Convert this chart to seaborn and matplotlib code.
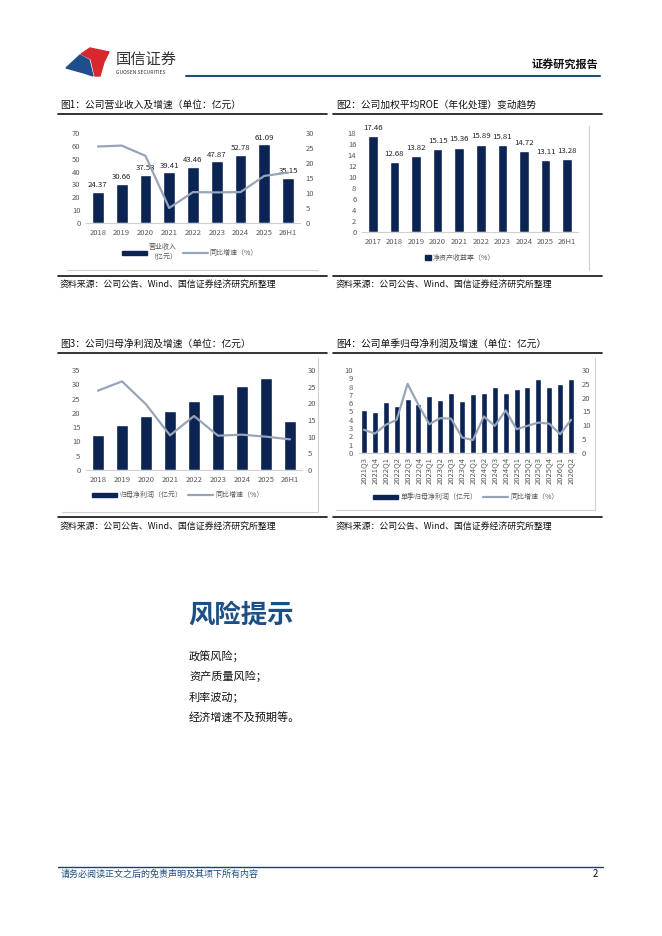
import numpy as np
import matplotlib
matplotlib.use('Agg')
import matplotlib.pyplot as plt
import seaborn as sns
from matplotlib.lines import Line2D
from matplotlib.patches import Patch, Polygon

sns.set_theme(style='white')
plt.rcParams['font.family'] = ['Noto Sans CJK SC', 'DejaVu Sans']
plt.rcParams['axes.unicode_minus'] = False

# ---- data ----
years = ['2018', '2019', '2020', '2021', '2022', '2023', '2024', '2025', '26H1']
revenue = [24.37, 30.66, 37.53, 39.41, 43.46, 47.87, 52.78, 61.09, 35.15]
revenue_yoy = [25.5, 25.8, 22.4, 5.0, 10.3, 10.2, 10.3, 15.7, 16.8]

roe_years = ['2017', '2018', '2019', '2020', '2021', '2022', '2023', '2024', '2025', '26H1']
roe = [17.46, 12.68, 13.82, 15.15, 15.36, 15.89, 15.81, 14.72, 13.11, 13.28]

profit = [12.4, 15.7, 18.8, 20.6, 24.1, 26.6, 29.5, 32.2, 17.1]
profit_yoy = [23.8, 26.6, 19.7, 10.4, 16.2, 10.3, 10.6, 10.0, 9.2]

quarters = ['2021Q3', '2021Q4', '2022Q1', '2022Q2', '2022Q3', '2022Q4',
            '2023Q1', '2023Q2', '2023Q3', '2023Q4', '2024Q1', '2024Q2',
            '2024Q3', '2024Q4', '2025Q1', '2025Q2', '2025Q3', '2025Q4',
            '2026Q1', '2026Q2']
q_profit = [5.2, 5.0, 6.2, 5.7, 6.5, 5.9, 6.9, 6.4, 7.2, 6.3,
            7.1, 7.2, 8.0, 7.2, 7.7, 7.9, 8.9, 8.0, 8.3, 8.9]
q_yoy = [8.4, 7.0, 10.2, 12.0, 25.0, 17.4, 10.4, 12.6, 12.4, 5.6,
         4.7, 13.2, 9.8, 15.4, 8.6, 9.8, 11.0, 10.6, 6.8, 12.0]

risks = ['政策风险；', '资产质量风险；', '利率波动；', '经济增速不及预期等。']

NAVY = '#0b2454'
LINE = '#97a5b8'
TICK = '#595959'
BLUE = '#1c4f86'
W, H = 662, 936

fig = plt.figure(figsize=(W / 100, H / 100), dpi=100)


def box(x0, y0, x1, y1):
    return [x0 / W, 1 - y1 / H, (x1 - x0) / W, (y1 - y0) / H]


def text(x, y, s, **kw):
    kw.setdefault('va', 'center')
    fig.text(x / W, 1 - y / H, s, **kw)


def hline(x0, x1, y, **kw):
    fig.add_artist(Line2D([x0 / W, x1 / W], [1 - y / H, 1 - y / H], **kw))


def vline(x, y0, y1, **kw):
    fig.add_artist(Line2D([x / W, x / W], [1 - y0 / H, 1 - y1 / H], **kw))


def style_axes(ax, ax2=None, xpad=4, rot=0):
    for s in ['top', 'left', 'right']:
        ax.spines[s].set_visible(False)
    ax.spines['bottom'].set_color('#d0d0d0')
    ax.spines['bottom'].set_linewidth(0.8)
    ax.tick_params(axis='both', length=0, labelsize=5.5, labelcolor=TICK)
    ax.tick_params(axis='y', pad=4)
    ax.tick_params(axis='x', pad=xpad, labelrotation=rot)
    ax.set_xlabel('')
    ax.set_ylabel('')
    if ax2 is not None:
        for s in ax2.spines.values():
            s.set_visible(False)
        ax2.tick_params(axis='y', length=0, labelsize=5.5, labelcolor=TICK, pad=4)
        ax2.set_ylabel('')
        ax2.grid(False)


def combo(rect, cats, bars, line, ylim, yticks, width, leg_labels, leg_xy, rot=0, xpad=4, labels=False):
    ax = fig.add_axes(box(*rect))
    sns.barplot(x=cats, y=bars, color=NAVY, saturation=1, width=width, ax=ax)
    if labels:
        ax.bar_label(ax.containers[0], fmt='%.2f', fontsize=5.6, padding=2, color='#222222')
    ax2 = ax.twinx()
    sns.lineplot(x=np.arange(len(cats)), y=line, color=LINE, lw=1.6, ax=ax2)
    ax.set_xlim(-0.5, len(cats) - 0.5)
    ax.set_ylim(*ylim)
    ax.set_yticks(yticks)
    ax2.set_ylim(0, 30)
    ax2.set_yticks(range(0, 31, 5))
    style_axes(ax, ax2, xpad=xpad, rot=rot)
    handles = [Patch(color=NAVY), Line2D([], [], color=LINE, lw=1.6)]
    ax.legend(handles, leg_labels, ncol=2, loc='center', frameon=False,
              bbox_to_anchor=(leg_xy[0] / W, 1 - leg_xy[1] / H), bbox_transform=fig.transFigure,
              fontsize=5, handlelength=3.6, handleheight=0.5, columnspacing=0.8,
              handletextpad=0.3, labelcolor=TICK)
    return ax


# ---- header ----
logo = fig.add_axes(box(62, 44, 112, 78))
logo.set_xlim(62, 112)
logo.set_ylim(78, 44)
logo.axis('off')
logo.add_patch(Polygon([(66, 68), (80, 55), (89, 60), (93, 76), (84, 73)], color='#1f4e8c'))
logo.add_patch(Polygon([(81, 54), (90, 48), (109, 52), (104, 62), (100, 76), (95, 76), (91, 59)],
                       color='#d7282f'))
text(116, 59, '国信证券', fontsize=11, color='#333333')
text(116, 72, 'GUOSEN SECURITIES', fontsize=3.6, color='#333333')
text(598, 64, '证券研究报告', fontsize=8, fontweight='bold', ha='right', color='#111111')
hline(186, 600, 76, color='#1f4e79', lw=1.5)

# ---- chart 1 ----
text(60, 105, '图1：公司营业收入及增速（单位：亿元）', fontsize=7, color='#111111')
hline(58, 327, 114, color='#111111', lw=1.2)
combo((86, 133, 300, 223), years, revenue, revenue_yoy, (0, 70), range(0, 71, 10), 0.5,
      ['营业收入\n（亿元）', '同比增速（%）'], (190, 252), labels=True)
hline(67, 318, 270, color='#d0d0d0', lw=0.8)
hline(58, 327, 276, color='#111111', lw=1.2)
text(60, 285, '资料来源：公司公告、Wind、国信证券经济研究所整理', fontsize=6.4, color='#111111')

# ---- chart 2 ----
text(336, 105, '图2：公司加权平均ROE（年化处理）变动趋势', fontsize=7, color='#111111')
hline(333, 602, 114, color='#111111', lw=1.2)
ax = fig.add_axes(box(362, 133, 578, 232))
sns.barplot(x=roe_years, y=roe, color=NAVY, saturation=1, width=0.45, ax=ax)
ax.bar_label(ax.containers[0], fmt='%.2f', fontsize=5.6, padding=3, color='#222222')
ax.set_xlim(-0.5, len(roe_years) - 0.5)
ax.set_ylim(0, 18)
ax.set_yticks(range(0, 19, 2))
style_axes(ax, xpad=4)
ax.legend([Patch(color=NAVY)], ['净资产收益率（%）'], loc='center', frameon=False,
          bbox_to_anchor=(460 / W, 1 - 258 / H), bbox_transform=fig.transFigure,
          fontsize=5, handlelength=0.8, handleheight=0.8, handletextpad=0.3, labelcolor=TICK)
vline(589, 126, 270, color='#d0d0d0', lw=0.8)
hline(333, 602, 276, color='#111111', lw=1.2)
text(336, 285, '资料来源：公司公告、Wind、国信证券经济研究所整理', fontsize=6.4, color='#111111')

# ---- chart 3 ----
text(60, 344, '图3：公司归母净利润及增速（单位：亿元）', fontsize=7, color='#111111')
hline(58, 327, 353, color='#111111', lw=1.2)
combo((86, 370, 302, 470), years, profit, profit_yoy, (0, 35), range(0, 36, 5), 0.5,
      ['归母净利润（亿元）', '同比增速（%）'], (178, 495))
vline(318, 358, 512, color='#d0d0d0', lw=0.8)
hline(62, 318, 512, color='#d0d0d0', lw=0.8)
hline(58, 327, 517, color='#111111', lw=1.2)
text(60, 527, '资料来源：公司公告、Wind、国信证券经济研究所整理', fontsize=6.4, color='#111111')

# ---- chart 4 ----
text(336, 344, '图4：公司单季归母净利润及增速（单位：亿元）', fontsize=7, color='#111111')
hline(333, 602, 353, color='#111111', lw=1.2)
combo((358.5, 370, 576.5, 453), quarters, q_profit, q_yoy, (0, 10), range(0, 11, 1), 0.55,
      ['单季归母净利润（亿元）', '同比增速（%）'], (466, 497), rot=90, xpad=3)
vline(595, 358, 510, color='#d0d0d0', lw=0.8)
hline(336, 595, 510, color='#d0d0d0', lw=0.8)
hline(333, 602, 517, color='#111111', lw=1.2)
text(336, 527, '资料来源：公司公告、Wind、国信证券经济研究所整理', fontsize=6.4, color='#111111')

# ---- risk section ----
text(188, 615, '风险提示', fontsize=19, fontweight='bold', color=BLUE)
for i, r in enumerate(risks):
    text(189, 656 + i * 20.5, r, fontsize=8, color='#111111')

# ---- footer ----
hline(58, 603, 867, color='#1f3f66', lw=1.0)
text(61, 874, '请务必阅读正文之后的免责声明及其项下所有内容', fontsize=6.5, style='italic', color='#1f4e79')
text(598, 874, '2', fontsize=7, ha='right', color='#111111')

fig.savefig('out.png', dpi=100)
